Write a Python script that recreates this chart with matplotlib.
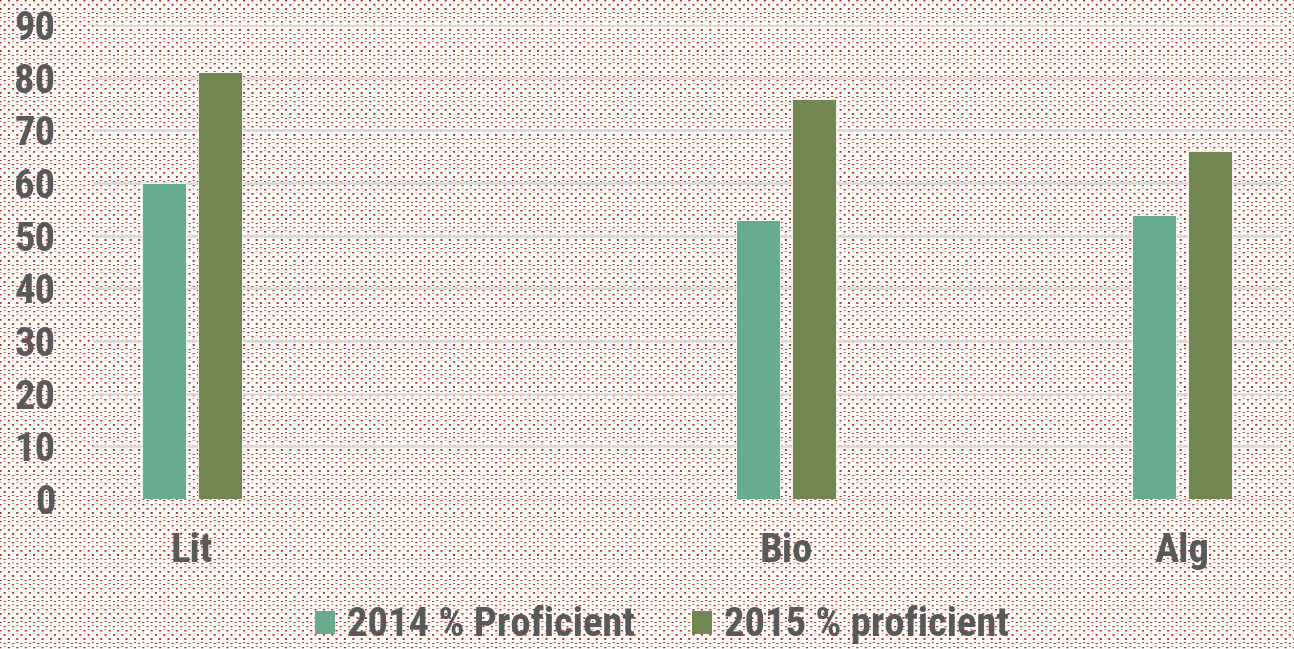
import numpy as np
import matplotlib
matplotlib.use("Agg")
import matplotlib.pyplot as plt
from matplotlib import font_manager
from matplotlib.patches import Patch

categories = ["Lit", "Bio", "Alg"]
cat_positions = [0.5, 3.5, 5.5]
series_names = ["2014 % Proficient", "2015 % proficient"]
values_2014 = [60, 53, 54]
values_2015 = [81, 76, 66]
y_ticks = [0, 10, 20, 30, 40, 50, 60, 70, 80, 90]

colors = ["#68AC8F", "#718650"]
text_color = "#595959"

names = {f.name for f in font_manager.fontManager.ttflist}
main = "Liberation Sans"
for cand in ["Liberation Sans Narrow", "Arial Narrow", "Roboto Condensed", "Liberation Sans"]:
    if cand in names:
        main = cand
        break
plt.rcParams["font.family"] = [main, "DejaVu Sans"]

W, H = 1294, 649
fig = plt.figure(figsize=(W / 100, H / 100), dpi=100)

# choose font size so that the legend label width matches the reference (~287 px)
r = fig.canvas.get_renderer()
t = fig.text(0, 0, series_names[0], fontsize=20, fontweight="bold")
wpx = t.get_window_extent(renderer=r).width
t.remove()
fs = 20 * 287.0 / wpx

# dotted background texture
yy, xx = np.mgrid[0:H, 0:W].astype(float)
px, py = 8.4, 4.2
row = np.floor((yy + 0.5) / py)
xo = xx - (row % 2) * (px / 2)
dx = np.abs(((xo + px / 2) % px) - px / 2)
dy = np.abs(((yy + py / 2) % py) - py / 2)
a = np.clip(1.5 - dx, 0, 1) * np.clip(1.5 - dy, 0, 1)
dot = np.array([176, 42, 14]) / 255.0
img = np.ones((H, W, 3)) * (1 - a[..., None]) + dot * a[..., None]
fig.figimage(img, 0, 0, zorder=-5, origin="upper")

ax = fig.add_axes([93 / W, (H - 499) / H, 1188 / W, 474 / H])
ax.set_zorder(2)
ax.patch.set_visible(False)

w = 0.222
off = 0.141
x = np.array(cat_positions)
ax.bar(x - off, values_2014, width=w, color=colors[0], zorder=3,
       edgecolor="white", linewidth=0.6)
ax.bar(x + off, values_2015, width=w, color=colors[1], zorder=3,
       edgecolor="white", linewidth=0.6)

ax.set_xlim(0, 6)
ax.set_ylim(0, 90)
ax.set_yticks(y_ticks)
ax.set_yticklabels([str(v) for v in y_ticks])
ax.set_xticks(cat_positions)
ax.set_xticklabels(categories)
for s in ax.spines.values():
    s.set_visible(False)
ax.yaxis.grid(True, color="#D9D9D9", linewidth=1.8, zorder=1)
ax.set_axisbelow(True)
ax.tick_params(axis="y", length=0, pad=27, labelsize=fs, labelcolor=text_color)
ax.tick_params(axis="x", length=0, pad=24, labelsize=fs, labelcolor=text_color)
for lab in ax.get_xticklabels() + ax.get_yticklabels():
    lab.set_fontweight("bold")

handles = [Patch(facecolor=colors[0]), Patch(facecolor=colors[1])]
leg = fig.legend(handles, series_names, loc="center", bbox_to_anchor=(662 / W, 1 - 625 / H),
                 ncol=2, frameon=False, handlelength=0.5, handleheight=0.5,
                 handletextpad=0.3, columnspacing=1.4,
                 prop={"size": fs, "weight": "bold"})
leg.set_zorder(3)
for t in leg.get_texts():
    t.set_color(text_color)

fig.savefig("out.png", dpi=100)
